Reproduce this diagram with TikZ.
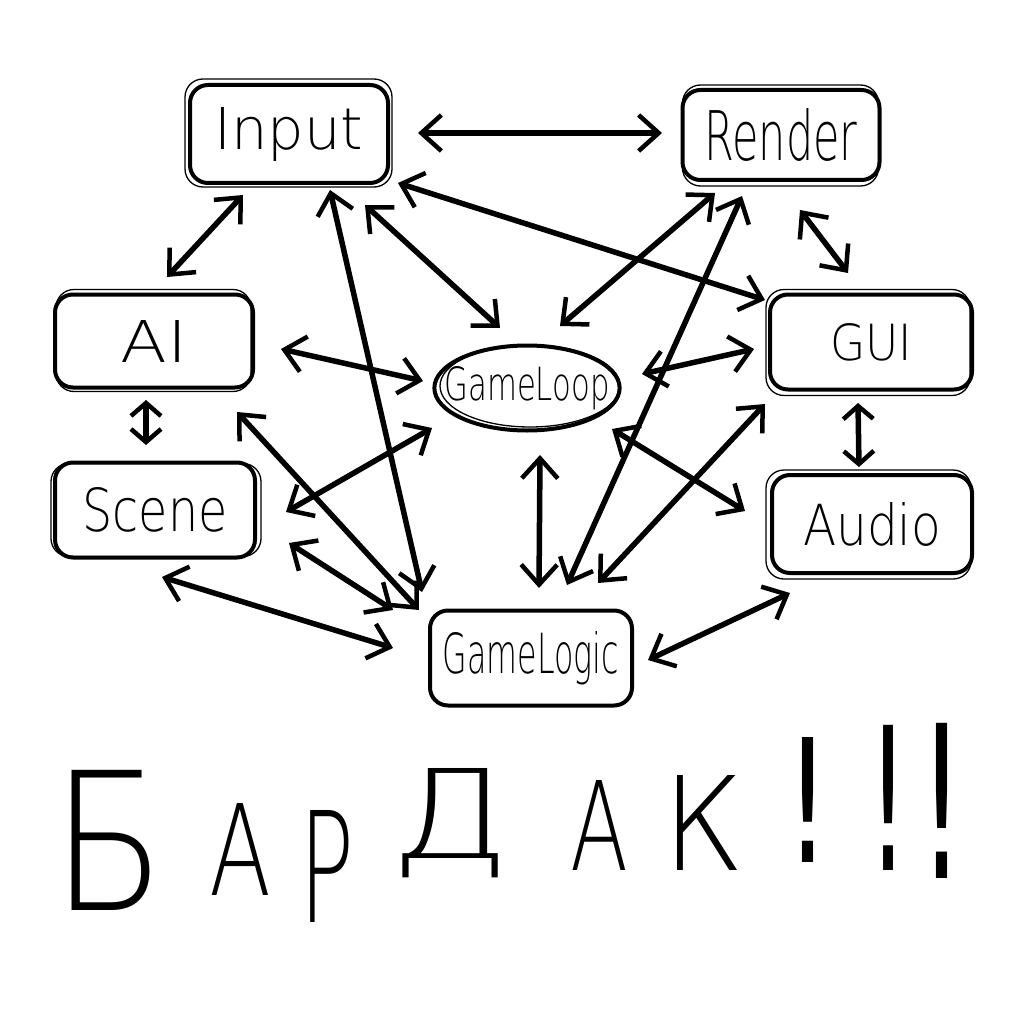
\documentclass[tikz,border=0pt]{standalone}
\usepackage{fontspec}
\usetikzlibrary{arrows.meta,shapes.geometric}
\setmainfont{DejaVuSans-ExtraLight.ttf}
\newfontfamily\bangfont{DejaVu Sans}
\tikzset{
  box/.style={draw, line width=4pt, rounded corners=18pt, inner sep=0pt},
  oval/.style={draw, ellipse, line width=4pt, inner xsep=-17pt, inner ysep=0pt},
  sk/.style={line width=1.3pt, rounded corners=18pt},
  conn/.style={line width=5.5pt, line cap=round,
    {Straight Barb[length=20pt,width=36pt,line width=4.5pt]}-{Straight Barb[length=20pt,width=36pt,line width=4.5pt]}},
  shortconn/.style={line width=5.5pt, line cap=round,
    {Straight Barb[length=13pt,width=30pt,line width=4.5pt]}-{Straight Barb[length=13pt,width=30pt,line width=4.5pt]}},
  letter/.style={inner sep=0pt, anchor=base},
}
\begin{document}
\begin{tikzpicture}[x=1pt,y=-1pt]
\useasboundingbox[fill=white] (0,0) rectangle (1024,1024);

% nodes
\node[box, minimum width=198pt, minimum height=98pt] (input) at (289,134) {\resizebox{149pt}{42pt}{Input}};
\node[box, minimum width=197pt, minimum height=90pt] (render) at (781,135) {\resizebox{153pt}{52pt}{Render}};
\node[box, minimum width=198pt, minimum height=93pt] (ai) at (154,341) {\resizebox{67pt}{42pt}{AI}};
\node[box, minimum width=202pt, minimum height=95pt] (gui) at (871,342) {\resizebox{82pt}{37pt}{GUI}};
\node[oval, minimum width=185pt, minimum height=85pt] (loop) at (527,388) {\resizebox{165pt}{34pt}{GameLoop}};
\node[box, minimum width=200pt, minimum height=95pt] (scene) at (155,510) {\resizebox{145pt}{44pt}{Scene}};
\node[box, minimum width=200pt, minimum height=98pt] (audio) at (872,524) {\resizebox{138pt}{43pt}{Audio}};
\node[box, minimum width=202pt, minimum height=95pt] (logic) at (531,658) {\resizebox{176pt}{42pt}{GameLogic}};

% sketchy second outlines
\draw[sk] ([shift={(-3,-4)}]input.north west) rectangle ([shift={(2,2)}]input.south east);
\draw[sk] ([shift={(2,-3)}]render.north west) rectangle ([shift={(-3,4)}]render.south east);
\draw[sk] ([shift={(3,-3)}]ai.north west) rectangle ([shift={(-4,2)}]ai.south east);
\draw[sk] ([shift={(-2,-3)}]gui.north west) rectangle ([shift={(-4,4)}]gui.south east);
\draw[sk] ([shift={(-2,3)}]scene.north west) rectangle ([shift={(4,-3)}]scene.south east);
\draw[sk] ([shift={(-4,-3)}]audio.north west) rectangle ([shift={(-3,4)}]audio.south east);
\draw[line width=1.3pt] ([shift={(3,-2)}]loop.center) ellipse (90pt and 41pt);

% connectors
\draw[conn] ([shift={(129,-1)}]input.center) -- ([shift={(-119,-2)}]render.center);
\draw[conn] ([shift={(-46,61)}]input.center) -- ([shift={(13,-64)}]ai.center);
\draw[conn] ([shift={(41,56)}]input.center) -- ([shift={(-109,-66)}]logic.center);
\draw[conn] ([shift={(76,71)}]input.center) -- ([shift={(-27,-60)}]loop.center);
\draw[conn] ([shift={(109,49)}]input.center) -- ([shift={(-106,-42)}]gui.center);
\draw[conn] ([shift={(-66,58)}]render.center) -- ([shift={(33,-62)}]loop.center);
\draw[conn] ([shift={(-39,61)}]render.center) -- ([shift={(36,-73)}]logic.center);
\draw[conn] ([shift={(19,75)}]render.center) -- ([shift={(-23,-69)}]gui.center);
\draw[conn] ([shift={(127,8)}]ai.center) -- ([shift={(-104,-7)}]loop.center);
\draw[shortconn] ([shift={(-8,59)}]ai.center) -- ([shift={(-9,-65)}]scene.center);
\draw[conn] ([shift={(83,71)}]ai.center) -- ([shift={(-112,-48)}]logic.center);
\draw[conn] ([shift={(131,2)}]scene.center) -- ([shift={(-95,40)}]loop.center);
\draw[conn] ([shift={(134,33)}]scene.center) -- ([shift={(-138,-48)}]logic.center);
\draw[conn] ([shift={(7,67)}]scene.center) -- ([shift={(-138,-10)}]logic.center);
\draw[conn] ([shift={(115,-14)}]loop.center) -- ([shift={(-117,7)}]gui.center);
\draw[conn] ([shift={(13,67)}]loop.center) -- ([shift={(8,-70)}]logic.center);
\draw[conn] ([shift={(85,41)}]loop.center) -- ([shift={(-127,-13)}]audio.center);
\draw[conn] ([shift={(-106,62)}]gui.center) -- ([shift={(67,-75)}]logic.center);
\draw[shortconn] ([shift={(-13,61)}]gui.center) -- ([shift={(-13,-57)}]audio.center);
\draw[conn] ([shift={(-82,69)}]audio.center) -- ([shift={(117,2)}]logic.center);

% bottom text
\node[letter] (l1) at (109,910) {\resizebox{115pt}{140pt}{Б}};
\node[letter] (l2) at (241,895) {\resizebox{62pt}{92pt}{А}};
\node[letter] (l3) at (327,922) {\resizebox{55pt}{112pt}{Р}};
\node[letter] (l4) at (451,858) {\resizebox{120pt}{90pt}{Д}};
\node[letter] (l5) at (599,870) {\resizebox{58pt}{90pt}{А}};
\node[letter] (l6) at (704,870) {\resizebox{82pt}{95pt}{К}};
\node[letter] (l7) at (808,862) {\resizebox{45pt}{125pt}{\bangfont !}};
\node[letter] (l8) at (888,870) {\resizebox{40pt}{145pt}{\bangfont !}};
\node[letter] (l9) at (942,878) {\resizebox{45pt}{155pt}{\bangfont !}};
\end{tikzpicture}
\end{document}
